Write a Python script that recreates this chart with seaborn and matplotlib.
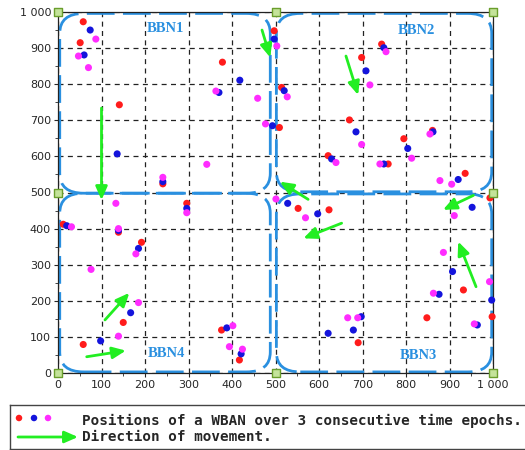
import matplotlib

matplotlib.use("Agg")

import matplotlib.pyplot as plt
import numpy as np
import pandas as pd
import seaborn as sns
from matplotlib.patches import FancyBboxPatch
from matplotlib.ticker import FuncFormatter, MultipleLocator

# positions of WBANs, one list per time epoch (red -> blue -> magenta)
red_x = [58, 51, 141, 241, 378, 497, 509, 514, 744, 698, 670, 795, 621, 759, 936,
         993, 552, 623, 932, 998, 848, 690, 12, 139, 192, 296, 150, 58, 376, 417, 861]
red_y = [973, 915, 743, 524, 861, 948, 680, 791, 911, 874, 701, 649, 602, 579, 553,
         485, 456, 452, 230, 156, 153, 84, 412, 390, 362, 470, 140, 79, 119, 36, 672]
blue_x = [74, 60, 136, 241, 418, 370, 497, 520, 493, 749, 708, 685, 804, 862, 629,
          749, 920, 528, 597, 952, 907, 997, 876, 964, 697, 621, 679, 20, 139, 185,
          296, 167, 98, 388, 421]
blue_y = [950, 881, 607, 530, 811, 777, 925, 782, 685, 901, 837, 668, 622, 668, 593,
          579, 536, 470, 441, 459, 281, 202, 218, 133, 156, 110, 119, 408, 395, 345,
          456, 167, 89, 125, 53]
magenta_x = [87, 47, 70, 342, 241, 363, 459, 477, 503, 527, 754, 717, 698, 813, 855,
             639, 740, 878, 905, 501, 569, 911, 886, 992, 863, 957, 666, 689, 31, 133,
             139, 179, 296, 76, 185, 139, 402, 394, 424]
magenta_y = [925, 878, 846, 578, 542, 781, 761, 690, 906, 765, 890, 798, 633, 595, 662,
             583, 579, 533, 523, 482, 430, 436, 334, 253, 221, 136, 153, 153, 405, 470,
             400, 330, 444, 287, 195, 102, 131, 73, 66]

# direction of movement arrows (tail -> head)
arrow_x0 = [100, 469, 662, 575, 652, 955, 961, 108, 66]
arrow_y0 = [734, 950, 878, 481, 415, 492, 239, 147, 45]
arrow_x1 = [100, 488, 690, 510, 564, 885, 920, 164, 156]
arrow_y1 = [479, 874, 770, 530, 373, 452, 364, 222, 62]

# body-to-body network areas
bbn_names = ["BBN1", "BBN2", "BBN3", "BBN4"]
bbn_x0 = [4, 502, 502, 4]
bbn_y0 = [498, 502, 3, 3]
bbn_x1 = [488, 997, 997, 488]
bbn_y1 = [996, 996, 496, 498]
bbn_label_x = [248, 824, 828, 250]
bbn_label_y = [953, 950, 48, 54]

# anchor squares
corner_x = [0, 0, 0, 500, 1000, 1000, 1000, 500]
corner_y = [0, 500, 1000, 1000, 1000, 500, 0, 0]

RED, BLUE, MAGENTA = "#ff1c1c", "#1414dc", "#ff2cff"
GREEN = "#22ee22"
BBN_COLOR = "#2a90e0"
ARROW_STYLE = "-|>,head_length=0.8,head_width=0.35"

sns.set_style("white")

df = pd.DataFrame({
    "x": red_x + blue_x + magenta_x,
    "y": red_y + blue_y + magenta_y,
    "epoch": ["t1"] * len(red_x) + ["t2"] * len(blue_x) + ["t3"] * len(magenta_x),
})

fig = plt.figure(figsize=(5.25, 4.5), dpi=100)
ax = fig.add_axes([58 / 525, 77 / 450, 435 / 525, 361 / 450])

ax.set_xlim(0, 1000)
ax.set_ylim(0, 1000)
ax.grid(True, color="#222222", linestyle=(0, (4, 3.5)), linewidth=0.9)
ax.set_axisbelow(True)

for x0, y0, x1, y1 in zip(bbn_x0, bbn_y0, bbn_x1, bbn_y1):
    pad = 55
    box = FancyBboxPatch(
        (x0 + pad, y0 + pad), (x1 - x0) - 2 * pad, (y1 - y0) - 2 * pad,
        boxstyle=f"round,pad={pad}", fill=False, edgecolor=BBN_COLOR,
        linewidth=2.0, linestyle=(0, (10, 3)), zorder=2,
    )
    ax.add_patch(box)

for name, lx, ly in zip(bbn_names, bbn_label_x, bbn_label_y):
    ax.text(lx, ly, name, color=BBN_COLOR, fontsize=10.5, fontweight="bold",
            family="Liberation Serif", ha="center", va="center", zorder=5)

sns.scatterplot(
    data=df, x="x", y="y", hue="epoch", palette=[RED, BLUE, MAGENTA],
    s=26, linewidth=0, legend=False, ax=ax, zorder=4, clip_on=False,
)

for x0, y0, x1, y1 in zip(arrow_x0, arrow_y0, arrow_x1, arrow_y1):
    ax.annotate(
        "", xy=(x1, y1), xytext=(x0, y0),
        arrowprops=dict(arrowstyle=ARROW_STYLE, color=GREEN, lw=2.0,
                        mutation_scale=10, shrinkA=0, shrinkB=0),
        zorder=6,
    )

ax.scatter(corner_x, corner_y, marker="s", s=28, facecolor="#c4e39a",
           edgecolor="#6a9e2c", linewidth=1, zorder=7, clip_on=False)

ax.set_xlabel("")
ax.set_ylabel("")
ax.xaxis.set_major_locator(MultipleLocator(100))
ax.yaxis.set_major_locator(MultipleLocator(100))
ax.xaxis.set_minor_locator(MultipleLocator(50))
ax.yaxis.set_minor_locator(MultipleLocator(50))
fmt = FuncFormatter(lambda v, _: f"{int(v):,}".replace(",", " "))
ax.xaxis.set_major_formatter(fmt)
ax.yaxis.set_major_formatter(fmt)
ax.tick_params(which="major", direction="out", length=3, width=0.8,
               labelsize=8, bottom=True, left=True, pad=2)
ax.tick_params(which="minor", direction="out", length=2, width=0.6,
               bottom=True, left=True)
for side in ax.spines.values():
    side.set_color("#222222")
    side.set_linewidth(0.9)

# legend box below the chart
lax = fig.add_axes([10 / 525, 1 / 450, 1.0, 44 / 450])
lax.set_xlim(10, 535)
lax.set_ylim(1, 45)
lax.set_xticks([])
lax.set_yticks([])
for side in lax.spines.values():
    side.set_color("#444444")
    side.set_linewidth(1)
lax.scatter([19, 34, 48], [32, 32, 32], s=22, c=[RED, BLUE, MAGENTA], linewidth=0)
lax.annotate("", xy=(78, 13), xytext=(18, 13),
             arrowprops=dict(arrowstyle=ARROW_STYLE, color=GREEN, lw=2.0,
                             mutation_scale=10, shrinkA=0, shrinkB=0))
lax.text(82, 29, "Positions of a WBAN over 3 consecutive time epochs.",
         family="DejaVu Sans Mono", fontweight="bold", fontsize=10.3, va="center")
lax.text(82, 13, "Direction of movement.",
         family="DejaVu Sans Mono", fontweight="bold", fontsize=10.3, va="center")

fig.savefig("out.png", dpi=100)
